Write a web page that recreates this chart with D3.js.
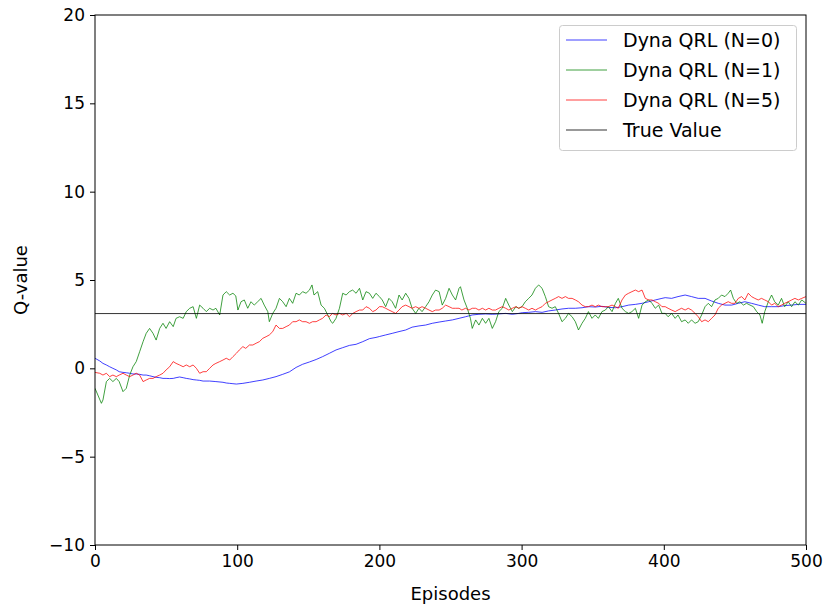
<!DOCTYPE html>
<html>
<head>
<meta charset="utf-8">
<script src="https://cdn.jsdelivr.net/npm/d3@7"></script>
<style>
  body { margin: 0; background: #fff; }
  text { font-family: "DejaVu Sans", sans-serif; fill: #000; }
</style>
</head>
<body>
<svg id="chart" width="824" height="604"></svg>
<script>
const xTicks = [0, 100, 200, 300, 400, 500];
const yTicks = [-10, -5, 0, 5, 10, 15, 20];
const seriesNames = ["Dyna QRL (N=0)", "Dyna QRL (N=1)", "Dyna QRL (N=5)", "True Value"];
const trueValue = 3.1;

const blueData = [[0,0.57],[3.3,0.42],[5.6,0.28],[8,0.19],[10.3,0.09],[12.6,0],[15,-0.09],[17,-0.19],[19.7,-0.23],[22,-0.25],[24.4,-0.28],[26.7,-0.32],[29,-0.32],[31.4,-0.34],[33.8,-0.38],[36,-0.38],[38.4,-0.42],[40.8,-0.47],[43,-0.51],[45.5,-0.53],[47.8,-0.57],[50,-0.57],[52.5,-0.58],[55,-0.57],[57,-0.53],[59.5,-0.49],[62,-0.53],[64.2,-0.57],[66.6,-0.6],[69,-0.64],[71.3,-0.66],[73.6,-0.68],[76,-0.72],[80.6,-0.72],[85,-0.75],[90,-0.79],[92.3,-0.83],[94.7,-0.85],[97,-0.87],[99.4,-0.89],[104,-0.85],[108.6,-0.79],[113.3,-0.72],[118,-0.66],[122.6,-0.57],[127.3,-0.47],[132,-0.34],[136.7,-0.2],[141.4,0.05],[146,0.23],[150.8,0.36],[155.5,0.5],[160,0.66],[164.8,0.85],[169.5,1.04],[174.2,1.17],[179,1.3],[183.6,1.36],[188.3,1.51],[193,1.68],[197.6,1.75],[200,1.8],[204.4,1.89],[209,1.98],[213.8,2.08],[218.5,2.17],[223,2.33],[227.8,2.4],[232.5,2.45],[237.2,2.55],[242,2.62],[246.6,2.68],[251.3,2.74],[256,2.83],[260.6,2.92],[265.3,3.02],[270,3.06],[274.7,3.08],[279.4,3.06],[284,3.08],[288.8,3.11],[293.5,3.06],[298,3.11],[300.5,3.15],[305,3.17],[309.7,3.21],[314.4,3.17],[319,3.25],[323.7,3.3],[328.4,3.36],[333,3.4],[337.8,3.4],[342.5,3.43],[347,3.49],[351.8,3.47],[356.5,3.51],[361,3.45],[366,3.43],[370.6,3.49],[375.3,3.58],[380,3.62],[384.7,3.68],[389.4,3.77],[394,3.87],[398.7,3.96],[401,4],[405.5,3.96],[410,4.06],[415,4.15],[419.5,4.06],[424.2,3.96],[429,3.96],[433.6,3.81],[438.3,3.68],[443,3.58],[447.7,3.58],[452.4,3.68],[457,3.77],[461.7,3.68],[466.4,3.58],[471,3.49],[475.8,3.49],[480.5,3.49],[485,3.55],[489.9,3.58],[494.6,3.62],[500,3.62]];

const greenData = [[0,-1.13],[2,-1.51],[4.5,-1.98],[5.6,-1.79],[8,-0.75],[10.3,-0.57],[12.6,-0.75],[15,-0.57],[17,-0.75],[19.7,-1.32],[22,-1.13],[24.4,-0.38],[26.7,0.09],[29,0.38],[31.4,0.94],[33.8,1.51],[36,1.98],[38.4,2.26],[40.8,1.98],[43,1.6],[45.5,2.26],[47.8,2.55],[50,2.26],[52.5,2.64],[55,2.36],[57,2.83],[59.5,2.92],[62,2.83],[64.2,3.21],[66.6,3.4],[69,3.49],[71.3,2.83],[73.6,3.58],[76,3.4],[78.3,3.21],[80.6,3.4],[83,3.3],[85,3.4],[87.7,3.02],[90,4.15],[92.3,4.34],[94.7,4.15],[97,4.25],[99,4.1],[100.5,3.3],[102.7,3.77],[105,3.87],[107.4,3.4],[109.7,3.77],[112,3.58],[114.4,3.77],[116.8,3.96],[119,3.58],[121.5,3.21],[122.6,2.64],[125,3.11],[127.3,3.4],[129.7,3.96],[132,3.77],[134.4,3.49],[136.7,3.96],[139,3.68],[141.4,4.25],[143.7,4.15],[146,4.34],[148.4,4.25],[150.8,4.43],[152.6,4.72],[154,4.15],[156.6,4.34],[159,3.58],[161.3,3.4],[163.7,3.02],[166,2.64],[167.2,2.55],[169.5,2.83],[171.9,3.4],[174.2,4.25],[176.6,4.15],[178.9,4.34],[181.2,4.43],[183.6,4.25],[186,4.53],[188.3,3.87],[190.6,4.34],[193,4.25],[195.3,3.96],[197.6,4.25],[200,4.06],[202,3.87],[204.4,3.49],[206.7,3.96],[209,3.77],[211.4,3.4],[213.8,4.15],[216,3.87],[218.5,4.25],[220.8,3.96],[223,3.4],[225.5,3.11],[227.8,3.4],[230,3.21],[232.5,3.49],[234.9,3.77],[237.2,4.15],[239.5,4.43],[242,4.34],[244.2,3.58],[246.6,3.96],[249,4.53],[251.3,4.15],[253.6,3.87],[256,4.53],[257,4.62],[259.5,3.87],[261.8,3.4],[264,2.83],[265.3,2.26],[267.7,2.74],[270,2.45],[272.4,2.83],[274.7,2.55],[277,2.83],[279.4,2.26],[281.7,2.64],[284,3.21],[286.4,3.4],[288.8,3.96],[291,3.58],[293.5,3.21],[296,3.49],[298,3.4],[300.3,3.49],[302.6,3.77],[305,3.96],[307.3,4.15],[309.7,4.53],[312,4.72],[314.4,4.53],[316.7,4.06],[319,3.49],[321.4,3.4],[323.7,3.49],[326,3.11],[328.4,2.64],[330.8,2.83],[333,3.11],[335.5,2.92],[337.8,2.64],[340,2.17],[342.5,2.55],[344.8,2.83],[347,3.21],[349.5,2.83],[351.8,3.02],[354,2.83],[356.5,3.21],[358.9,3.3],[361,3.49],[363.6,3.21],[366,3.68],[368,3.96],[370.6,3.4],[373,3.21],[375.3,3.11],[377.6,3.21],[380,3.4],[382.3,2.83],[384.7,3.58],[387,3.77],[389.4,3.87],[391.7,3.68],[394,3.4],[396.4,3.58],[398.7,3.11],[401,3.11],[403,2.92],[405.5,3.11],[408,2.83],[410,3.02],[412.5,2.64],[415,2.74],[417.2,2.55],[419.5,2.74],[422,2.55],[424.2,2.64],[426.6,3.02],[429,3.49],[431.3,3.68],[433.6,3.49],[436,3.87],[438.3,3.96],[440.6,4.15],[443,4.06],[445.3,4.25],[447,4.43],[448.9,3.96],[451.2,3.68],[453.5,3.77],[456,3.58],[458.2,3.68],[460.6,3.58],[463,3.49],[465.3,3.21],[467.6,3.02],[469.2,2.55],[471,3.21],[473.5,3.77],[475.8,4.15],[478,3.77],[480.5,3.58],[482.8,3.96],[485,3.49],[487.5,3.77],[489.9,3.49],[492.2,3.77],[494.6,3.58],[497,3.87],[500,3.68]];

const redData = [[0,-0.23],[3.3,-0.28],[5.6,-0.38],[8,-0.28],[10.3,-0.47],[12.6,-0.38],[15,-0.47],[17,-0.38],[19.7,-0.28],[22,-0.38],[24.4,-0.47],[26.7,-0.38],[29,-0.28],[31.4,-0.38],[33.8,-0.75],[36,-0.66],[38.4,-0.57],[40.8,-0.57],[43,-0.47],[45.5,-0.38],[47.8,-0.28],[50,-0.09],[52.5,0.09],[55,0.38],[57,0.28],[59.5,0.19],[62,0.09],[64.2,0.19],[66.6,0.09],[69,0.19],[71.3,0],[73.6,-0.28],[76,-0.19],[78.3,-0.19],[80.6,0],[83,0.19],[85,0.28],[87.7,0.38],[90,0.47],[92.3,0.57],[94.7,0.47],[97,0.66],[99.4,0.85],[101.5,1.04],[104,1.23],[106,1.13],[108.6,1.32],[111,1.32],[113.3,1.42],[115.6,1.51],[118,1.7],[120.3,1.79],[122.6,1.89],[125,2.08],[127.3,2.45],[129.7,2.26],[132,2.26],[134.4,2.36],[136.7,2.45],[139,2.64],[141.4,2.64],[143.7,2.74],[146,2.64],[148.4,2.64],[150.8,2.55],[153,2.64],[155.5,2.64],[157.8,2.74],[160,2.83],[162.5,3.02],[164.8,2.92],[167,3.11],[169.5,3.02],[172,3.11],[174.2,3.02],[176.6,3.11],[179,2.92],[181.3,3.11],[183.6,3.21],[186,3.3],[188.3,3.3],[190.6,3.49],[193,3.4],[195.3,3.21],[197.6,3.3],[200,3.49],[202,3.49],[204.4,3.4],[206.7,3.3],[209,3.21],[211.4,3.11],[213.8,3.3],[216,3.49],[218.5,3.58],[220.8,3.49],[223,3.4],[225.5,3.49],[227.8,3.4],[230,3.49],[232.5,3.4],[234.9,3.3],[237.2,3.21],[239.5,3.3],[242,3.3],[244.2,3.4],[246.6,3.58],[249,3.49],[251.3,3.4],[253.6,3.4],[256,3.4],[258,3.3],[260.6,3.4],[263,3.3],[265.3,3.4],[267.7,3.4],[270,3.3],[272.4,3.4],[274.7,3.3],[277,3.4],[279.4,3.3],[281.7,3.3],[284,3.4],[286.4,3.49],[288.8,3.4],[291,3.3],[293.5,3.4],[296,3.49],[298,3.4],[300.3,3.49],[302.6,3.4],[305,3.3],[307.3,3.4],[309.7,3.3],[312,3.4],[314.4,3.49],[316.7,3.68],[319,3.77],[321.4,3.87],[323.7,3.96],[326,4.06],[328.4,3.96],[330.8,4.06],[333,3.96],[335.5,3.96],[337.8,3.87],[340,3.77],[342.5,3.58],[344.8,3.49],[347,3.49],[349.5,3.58],[351.8,3.49],[354,3.58],[356.5,3.49],[358.9,3.49],[361,3.49],[363.6,3.58],[366,3.49],[368,3.4],[370.6,3.87],[373,4.15],[375.3,4.25],[377.6,4.34],[380,4.43],[382.3,4.34],[384.7,4.43],[387,3.96],[389.4,3.87],[391.7,3.87],[394,3.77],[396.4,3.68],[398.7,3.49],[401,3.49],[403,3.4],[405.5,3.3],[408,3.21],[410,3.3],[412.5,3.4],[415,3.3],[417.2,3.4],[419.5,3.3],[422,3.11],[424.2,2.92],[426.6,2.64],[429,2.74],[431.3,2.64],[433.6,2.83],[436,3.02],[438.3,3.4],[440.6,3.58],[443,3.68],[445.3,3.77],[447.7,3.68],[450,3.68],[452.4,3.96],[454.7,4.06],[457,3.87],[459.4,4.25],[461.7,4.06],[464,3.96],[466.4,3.87],[468.7,3.96],[471,3.87],[473.5,3.77],[475.8,3.58],[478,3.68],[480.5,3.49],[482.8,3.58],[485,3.68],[487.5,3.77],[489.9,3.87],[492.2,3.96],[494.6,3.87],[497,3.96],[500,4.06]];

const svg = d3.select("#chart");
const L = 95, R = 806, T = 15, B = 545;
const x = d3.scaleLinear().domain([0, 500]).range([L, R]);
const y = d3.scaleLinear().domain([-10, 20]).range([B, T]);

svg.append("defs").append("clipPath").attr("id", "clip")
  .append("rect").attr("x", L).attr("y", T).attr("width", R - L).attr("height", B - T);

const line = d3.line().x(d => x(d[0])).y(d => y(d[1]));
const plot = svg.append("g").attr("clip-path", "url(#clip)");

const series = [
  { data: blueData, color: "#0000ff" },
  { data: greenData, color: "#008000" },
  { data: redData, color: "#ff0000" }
];
series.forEach(s => {
  plot.append("path").datum(s.data)
    .attr("fill", "none").attr("stroke", s.color)
    .attr("stroke-opacity", 0.75).attr("stroke-width", 1)
    .attr("stroke-linejoin", "round")
    .attr("d", line);
});
plot.append("path").datum([[0, trueValue], [500, trueValue]])
  .attr("fill", "none").attr("stroke", "#000").attr("stroke-width", 1)
  .attr("stroke-opacity", 0.8)
  .attr("d", line);

// axes
const fs = 17;
const xAxis = svg.append("g").attr("transform", `translate(0,${B})`)
  .call(d3.axisBottom(x).tickValues(xTicks).tickSize(5).tickPadding(5));
const yAxis = svg.append("g").attr("transform", `translate(${L},0)`)
  .call(d3.axisLeft(y).tickValues(yTicks).tickSize(5).tickPadding(5));
[xAxis, yAxis].forEach(a => {
  a.select(".domain").remove();
  a.selectAll("text").style("font-family", "DejaVu Sans").style("font-size", fs + "px").attr("fill", "#000");
  a.selectAll("line").attr("stroke", "#000");
});

// frame
svg.append("rect").attr("x", L).attr("y", T).attr("width", R - L).attr("height", B - T)
  .attr("fill", "none").attr("stroke", "#000").attr("stroke-width", 1);

// axis labels
svg.append("text").attr("x", (L + R) / 2).attr("y", 600)
  .attr("text-anchor", "middle").style("font-size", "18px").text("Episodes");
svg.append("text").attr("transform", `translate(27,${(T + B) / 2}) rotate(-90)`)
  .attr("text-anchor", "middle").style("font-size", "18px").text("Q-value");

// legend
const lg = svg.append("g");
lg.append("rect").attr("x", 559.5).attr("y", 25.5).attr("width", 237).attr("height", 125)
  .attr("rx", 3).attr("fill", "#fff").attr("fill-opacity", 0.8)
  .attr("stroke", "#cccccc").attr("stroke-width", 1);
const legendColors = ["#0000ff", "#008000", "#ff0000", "#000000"];
seriesNames.forEach((name, i) => {
  const cy = 40 + i * 30;
  lg.append("line").attr("x1", 566).attr("x2", 607).attr("y1", cy).attr("y2", cy)
    .attr("stroke", legendColors[i]).attr("stroke-opacity", i < 3 ? 0.75 : 0.8).attr("stroke-width", 1);
  lg.append("text").attr("x", 623).attr("y", cy).attr("dy", "0.35em")
    .style("font-size", "19px").text(name);
});
</script>
</body>
</html>
